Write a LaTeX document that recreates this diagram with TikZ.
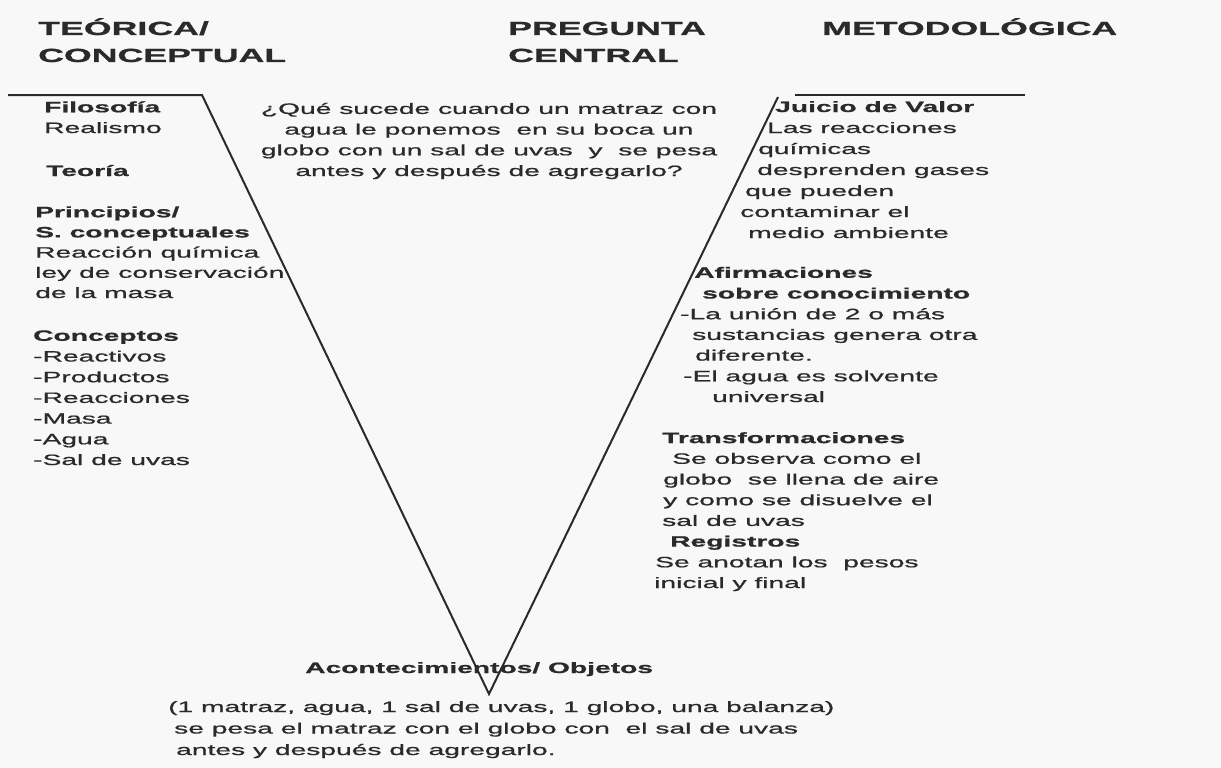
\documentclass[tikz,border=0pt]{standalone}
\usepackage{fontspec}
\usepackage{tikz}
\usetikzlibrary{positioning}
\usepackage{xcolor}

\newfontfamily\vfont[FakeStretch=1.88, FakeBold=0.9]{Liberation Sans}
\definecolor{ink}{HTML}{2A2A2A}
\definecolor{paper}{HTML}{F8F8F8}

% base anchor of a multi-line node is the baseline of its last line
\tikzset{
    txt/.style={anchor=base west, inner sep=0pt, align=left, text=ink,
        font=\vfont\fontsize{15}{20.7}\selectfont},
    hdr/.style={anchor=base west, inner sep=0pt, align=left, text=ink,
        font=\vfont\bfseries\fontsize{19}{27}\selectfont},
    vline/.style={draw=ink, line width=2pt, line join=miter},
}

\begin{document}
\begin{tikzpicture}[x=1pt, y=-1pt]
    \fill[paper] (0,0) rectangle (1221,768);
    \useasboundingbox (0,0) rectangle (1221,768);

    % the V
    \coordinate (lend) at (8,95);
    \coordinate (ltop) at (202,95);
    \coordinate (vtx) at (489,694);
    \coordinate (rtop) at (778,97);
    \coordinate (rleft) at (795,95);
    \coordinate (rright) at (1025,95);
    \draw[vline] (lend) -- (ltop) -- (vtx) -- (rtop);
    \draw[vline, line width=1.6pt] (rleft) -- (rright);

    % headers
    \node[hdr] (hteo) at (38,62) {TEÓRICA/\\CONCEPTUAL};
    \node[hdr] (hpreg) at (508,62) {PREGUNTA\\CENTRAL};
    \node[hdr] (hmet) at (822,35) {METODOLÓGICA};

    % left side
    \node[txt] (filo) at (44,133) {\textbf{Filosofía}\\Realismo};
    \node[txt] (teo) at (46,176) {\textbf{Teoría}};
    \node[txt, font=\vfont\fontsize{15}{20.2}\selectfont] (princ) at (35,298) {\textbf{Principios/}\\\textbf{S. conceptuales}\\Reacción química\\ley de conservación\\de la masa};
    \node[txt] (conc) at (33,465) {\textbf{Conceptos}\\-Reactivos\\-Productos\\-Reacciones\\-Masa\\-Agua\\-Sal de uvas};

    % central question
    \node[txt, anchor=base, align=center] (preg) at (489,176) {¿Qué sucede cuando un matraz con\\agua le ponemos\ \ en su boca un\\globo con un sal de uvas\ \ y\ \ se pesa\\antes y después de agregarlo?};

    % right side
    \node[txt, font=\vfont\fontsize{15}{21}\selectfont] (juicio) at (740,238) {\hspace*{35pt}\textbf{Juicio de Valor}\\\hspace*{27pt}Las reacciones\\\hspace*{18pt}químicas\\\hspace*{17pt}desprenden gases\\\hspace*{5pt}que pueden\\contaminar el\\\hspace*{8pt}medio ambiente};
    \node[txt] (afirm) at (680,402) {\hspace*{14pt}\textbf{Afirmaciones}\\\hspace*{22pt}\textbf{sobre conocimiento}\\-La unión de 2 o más\\\hspace*{12pt}sustancias genera otra\\\hspace*{15pt}diferente.\\\hspace*{3pt}-El agua es solvente\\\hspace*{32pt}universal};
    \node[txt] (trans) at (654,588) {\hspace*{8pt}\textbf{Transformaciones}\\\hspace*{18pt}Se observa como el\\\hspace*{9pt}globo\ \ se llena de aire\\\hspace*{9pt}y como se disuelve el\\\hspace*{8pt}sal de uvas\\\hspace*{16pt}\textbf{Registros}\\\hspace*{1pt}Se anotan los\ \ pesos\\inicial y final};

    % bottom
    \node[txt] (acont) at (305,673) {\textbf{Acontecimientos/ Objetos}};
    \node[txt, font=\vfont\fontsize{15}{21.5}\selectfont] (obj) at (168,755) {(1 matraz, agua, 1 sal de uvas, 1 globo, una balanza)\\\hspace*{6pt}se pesa el matraz con el globo con\ \ el sal de uvas\\\hspace*{8pt}antes y después de agregarlo.};
\end{tikzpicture}
\end{document}
